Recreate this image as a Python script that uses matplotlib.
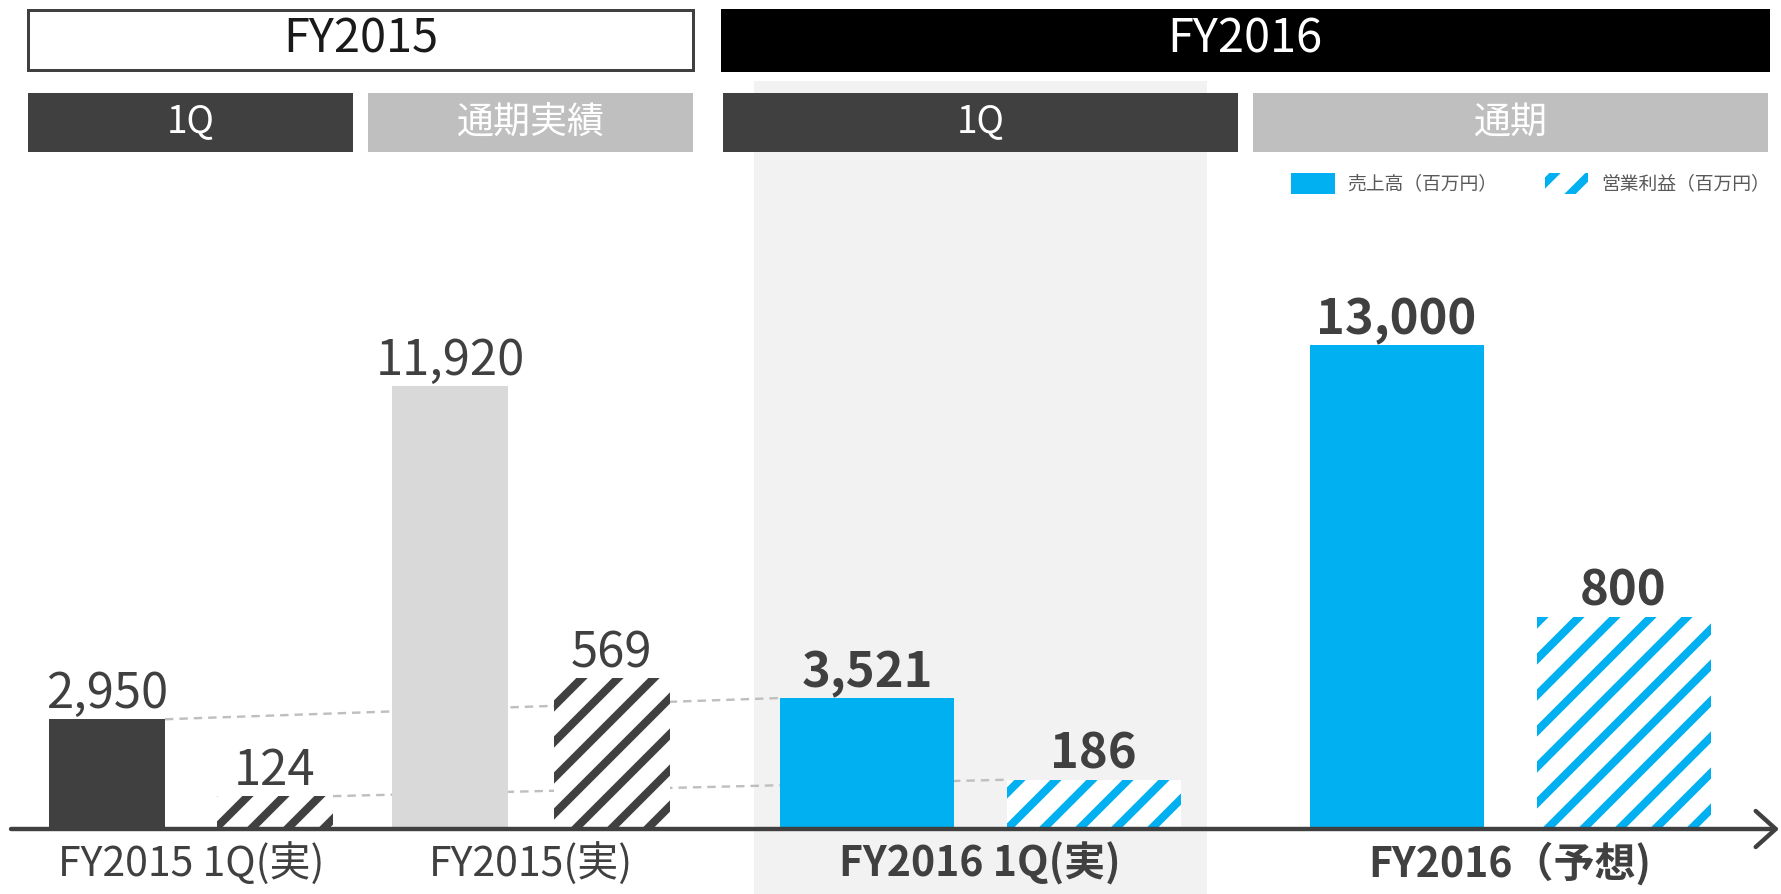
import matplotlib.pyplot as plt
from matplotlib.patches import Rectangle

DPI = 108
PT = 72 / DPI  # points per pixel

plt.rcParams['font.family'] = ['Noto Sans CJK JP', 'DejaVu Sans']
plt.rcParams['hatch.linewidth'] = 8 * PT

# Data
categories = ['FY2015 1Q(実)', 'FY2015(実)', 'FY2016 1Q(実)', 'FY2016（予想)']
sales = [2950, 11920, 3521, 13000]        # 売上高（百万円）
profit = [124, 569, 186, 800]             # 営業利益（百万円）
header_years = ['FY2015', 'FY2016']
header_periods = ['1Q', '通期実績', '1Q', '通期']
legend_labels = ['売上高（百万円）', '営業利益（百万円）']

# Colours
BLUE = '#00b0f0'
DARK = '#404040'
sales_colors = [DARK, '#d9d9d9', BLUE, BLUE]
profit_colors = [DARK, DARK, BLUE, BLUE]
bold = [False, False, True, True]

# Layout in pixels (figure is 1781 x 895)
W, H = 1781, 895
base_y = 830
sales_x = [107, 450, 867, 1396.5]
profit_x = [275, 611.5, 1093.5, 1623.5]
widths = [116, 116, 174, 174]
px_per_sale = 0.0372
px_per_profit = 0.265

fig = plt.figure(figsize=(W / DPI, H / DPI), dpi=DPI)

# decoration layer in pixel coordinates
deco = fig.add_axes([0, 0, 1, 1])
deco.set_xlim(0, W)
deco.set_ylim(H, 0)
deco.axis('off')

# shaded FY2016 1Q panel
deco.add_patch(Rectangle((754, 82), 1207 - 754, H - 82, fc='#f2f2f2', lw=0))

# year headers
year_boxes = [(28, 693, 'white', '#1a1a1a'), (722, 1768, 'black', 'white')]
for label, (x0, x1, fc, tc) in zip(header_years, year_boxes):
    ec = DARK if fc == 'white' else fc
    deco.add_patch(Rectangle((x0, 11), x1 - x0, 60, fc=fc, ec=ec, lw=3 * PT))
    deco.text((x0 + x1) / 2, 39, label, ha='center', va='center',
              fontsize=47 * PT, color=tc)

# period headers
period_boxes = [(28, 353, DARK), (368, 693, '#bfbfbf'),
                (723, 1238, DARK), (1253, 1768, '#bfbfbf')]
for label, (x0, x1, fc) in zip(header_periods, period_boxes):
    deco.add_patch(Rectangle((x0, 94), x1 - x0, 59, fc=fc, lw=0))
    deco.text((x0 + x1) / 2, 122, label, ha='center', va='center',
              fontsize=37 * PT, color='white')

# legend
deco.add_patch(Rectangle((1291, 174), 44, 21, fc=BLUE, lw=0))
deco.add_patch(Rectangle((1545, 174), 43, 21, fc='white', ec=BLUE, lw=0, hatch='/'))
deco.text(1347, 184, legend_labels[0], va='center', fontsize=18.8 * PT, color='#595959')
deco.text(1601, 184, legend_labels[1], va='center', fontsize=18.8 * PT, color='#595959')

# category labels
for i, cat in enumerate(categories):
    cx = (sales_x[i] + profit_x[i]) / 2
    deco.text(cx, 864, cat, ha='center', va='center', fontsize=41 * PT,
              color=DARK, fontweight='bold' if bold[i] else 'normal')

# bar axes: sales on ax, operating profit on twin axis
ax = fig.add_axes([0, (H - base_y) / H, 1, base_y / H])
ax.set_xlim(0, W)
ax.set_ylim(0, base_y / px_per_sale)
ax.axis('off')
ax2 = ax.twinx()
ax2.set_ylim(0, base_y / px_per_profit)
ax2.axis('off')

ax.bar(sales_x, sales, width=widths, color=sales_colors, lw=0, zorder=2)
ax2.bar(profit_x, profit, width=widths, color='white', edgecolor=profit_colors,
        lw=0, hatch='/', zorder=2)

# dashed connectors between 1Q results
dash = (0, (3.5, 2.5))
ax.plot([sales_x[0] + widths[0] / 2, sales_x[2] - widths[2] / 2],
        [sales[0], sales[2]], ls=dash, color='#bfbfbf', lw=2.4 * PT, zorder=1)
ax.plot([profit_x[0] + widths[0] / 2, profit_x[2] - widths[2] / 2],
        [profit[0], profit[2]], ls=dash, color='#bfbfbf', lw=2.4 * PT,
        zorder=1, transform=ax2.transData)

# value labels
for i in range(4):
    w = 'bold' if bold[i] else 'normal'
    ax.annotate(f'{sales[i]:,}', (sales_x[i], sales[i]), xytext=(0, 12 * PT),
                textcoords='offset points', ha='center', va='baseline',
                fontsize=49 * PT, color=DARK, fontweight=w)
    ax2.annotate(f'{profit[i]:,}', (profit_x[i], profit[i]), xytext=(0, 12 * PT),
                 textcoords='offset points', ha='center', va='baseline',
                 fontsize=49 * PT, color=DARK, fontweight=w)

# baseline arrow
ax2.annotate('', xy=(1779, 0), xytext=(11, 0),
             arrowprops=dict(arrowstyle='->,head_length=0.5,head_width=0.45',
                             color=DARK, lw=4.4 * PT, mutation_scale=40 * PT,
                             shrinkA=0, shrinkB=0))

fig.savefig('out.png', dpi=DPI)
